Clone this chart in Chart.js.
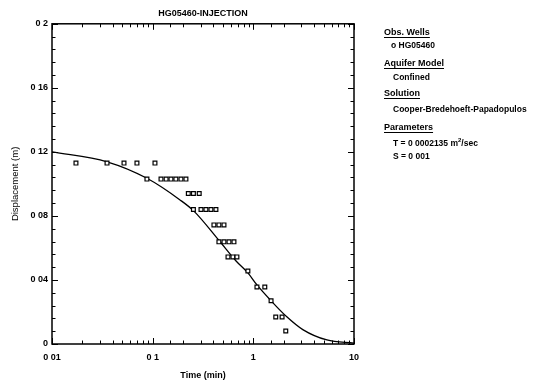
<!DOCTYPE html>
<html>
<head>
<meta charset="utf-8">
<script src="https://cdn.jsdelivr.net/npm/chart.js@4.4.1/dist/chart.umd.min.js"></script>
<style>
  body { margin: 0; background: #fff; }
  #wrap { position: relative; width: 533px; height: 385px; }
  #panel { position: absolute; left: 384px; top: 0; font-family: "Liberation Sans", Arial, sans-serif;
           font-weight: bold; font-size: 8.5px; color: #000; }
  #panel div { position: absolute; white-space: nowrap; line-height: 10px; }
  #panel .h { font-size: 9px; text-decoration: underline; text-decoration-thickness: 1px; text-underline-offset: 2px; }
  #panel sup { font-size: 6px; line-height: 0; }
</style>
</head>
<body>
<div id="wrap">
  <canvas id="plot" width="533" height="385"></canvas>
  <div id="panel">
    <div class="h" style="top:27px;left:0">Obs. Wells</div>
    <div style="top:40px;left:7px">o HG05460</div>
    <div class="h" style="top:58px;left:0">Aquifer Model</div>
    <div style="top:72px;left:9px">Confined</div>
    <div class="h" style="top:88px;left:0">Solution</div>
    <div style="top:104px;left:9px">Cooper-Bredehoeft-Papadopulos</div>
    <div class="h" style="top:122px;left:0">Parameters</div>
    <div style="top:138px;left:9px">T = 0 0002135 m<sup>2</sup>/sec</div>
    <div style="top:151px;left:9px">S = 0 001</div>
  </div>
</div>
<script>
// Observed data (time in min, displacement in m)
const obsTime = [0.0173, 0.0352, 0.0519, 0.0698, 0.1054,
  0.0877, 0.121, 0.136, 0.152, 0.170, 0.191, 0.214,
  0.226, 0.254, 0.290,
  0.254, 0.302, 0.338, 0.379, 0.425,
  0.406, 0.455, 0.511,
  0.455, 0.511, 0.573, 0.642,
  0.560, 0.627, 0.687,
  0.883,
  1.086, 1.30,
  1.50,
  1.67, 1.93,
  2.10];
const obsDisp = [0.113, 0.113, 0.113, 0.113, 0.113,
  0.103, 0.103, 0.103, 0.103, 0.103, 0.103, 0.103,
  0.094, 0.094, 0.094,
  0.084, 0.084, 0.084, 0.084, 0.084,
  0.0744, 0.0744, 0.0744,
  0.0638, 0.0638, 0.0638, 0.0638,
  0.0544, 0.0544, 0.0544,
  0.0456,
  0.0356, 0.0356,
  0.027,
  0.0169, 0.0169,
  0.0081];

// Fitted type curve
const fitTime = [0.01, 0.0352, 0.0877, 0.187, 0.257, 0.465, 0.67, 0.883, 1.086, 1.5, 2.15, 3.1, 5.38, 10];
const fitDisp = [0.120, 0.1138, 0.1035, 0.090, 0.083, 0.064, 0.052, 0.0444, 0.0369, 0.027, 0.017, 0.009, 0.0025, 0.0006];

const xTickLabels = ['0 01', '0 1', '1', '10'];
const yTickLabels = ['0', '0 04', '0 08', '0 12', '0 16', '0 2'];

const FONT = "'Liberation Sans', Arial, sans-serif";

function isDecade(v) {
    const l = Math.log10(v);
    return Math.abs(l - Math.round(l)) < 1e-6;
}
function isYMajor(v) {
    return Math.abs(v / 0.04 - Math.round(v / 0.04)) < 1e-6;
}

// frame and inward tick marks on all four sides
const frameTicks = {
    id: 'frameTicks',
    afterDatasetsDraw(chart) {
        const {ctx, chartArea: a, scales} = chart;
        ctx.save();
        ctx.strokeStyle = '#000';
        ctx.lineWidth = 1;
        ctx.beginPath();
        scales.x.ticks.forEach(t => {
            const px = Math.round(scales.x.getPixelForValue(t.value)) + 0.5;
            const len = isDecade(t.value) ? 6 : 3.5;
            ctx.moveTo(px, a.bottom); ctx.lineTo(px, a.bottom - len);
            ctx.moveTo(px, a.top); ctx.lineTo(px, a.top + len);
        });
        scales.y.ticks.forEach(t => {
            const py = Math.round(scales.y.getPixelForValue(t.value)) + 0.5;
            const len = isYMajor(t.value) ? 6 : 3.5;
            ctx.moveTo(a.left, py); ctx.lineTo(a.left + len, py);
            ctx.moveTo(a.right, py); ctx.lineTo(a.right - len, py);
        });
        ctx.stroke();
        ctx.lineWidth = 1.5;
        ctx.strokeRect(a.left, a.top, a.right - a.left, a.bottom - a.top);
        ctx.restore();
    }
};

new Chart(document.getElementById('plot'), {
    type: 'scatter',
    data: {
        datasets: [{
            data: obsTime.map((t, i) => ({x: t, y: obsDisp[i]})),
            pointStyle: 'rect',
            pointRadius: 2.7,
            borderColor: '#000',
            backgroundColor: '#fff',
            borderWidth: 1.2,
            showLine: false
        }, {
            data: fitTime.map((t, i) => ({x: t, y: fitDisp[i]})),
            showLine: true,
            borderColor: '#000',
            borderWidth: 1.3,
            pointRadius: 0,
            cubicInterpolationMode: 'monotone'
        }]
    },
    options: {
        responsive: false,
        animation: false,
        layout: { padding: { left: 0, right: 179, top: 0, bottom: 0 } },
        plugins: {
            legend: { display: false },
            tooltip: { enabled: false },
            title: {
                display: true,
                text: 'HG05460-INJECTION',
                fullSize: false,
                color: '#000',
                font: { family: FONT, size: 9, weight: 'bold' },
                padding: { top: 8, bottom: 5 }
            }
        },
        scales: {
            x: {
                type: 'logarithmic',
                min: 0.01,
                max: 10,
                grid: { display: false, drawTicks: false },
                border: { display: false },
                afterFit: s => { s.height = 41; },
                ticks: {
                    autoSkip: false,
                    maxRotation: 0,
                    padding: 8,
                    color: '#000',
                    font: { family: FONT, size: 9, weight: 'bold' },
                    callback: v => isDecade(v) ? xTickLabels[Math.round(Math.log10(v)) + 2] : ''
                },
                title: {
                    display: true,
                    text: 'Time (min)',
                    color: '#000',
                    font: { family: FONT, size: 9, weight: 'bold' },
                    padding: { top: 0, bottom: 4 }
                }
            },
            y: {
                min: 0,
                max: 0.2,
                grid: { display: false, drawTicks: false },
                border: { display: false },
                afterFit: s => { s.width = 52; },
                ticks: {
                    stepSize: 0.008,
                    autoSkip: false,
                    padding: 4,
                    color: '#000',
                    font: { family: FONT, size: 9, weight: 'bold' },
                    callback: v => isYMajor(v) ? yTickLabels[Math.round(v / 0.04)] : ''
                },
                title: {
                    display: true,
                    text: 'Displacement (m)',
                    color: '#000',
                    font: { family: FONT, size: 9.5 },
                    padding: { top: 10, bottom: 0 }
                }
            }
        }
    },
    plugins: [frameTicks]
});
</script>
</body>
</html>
